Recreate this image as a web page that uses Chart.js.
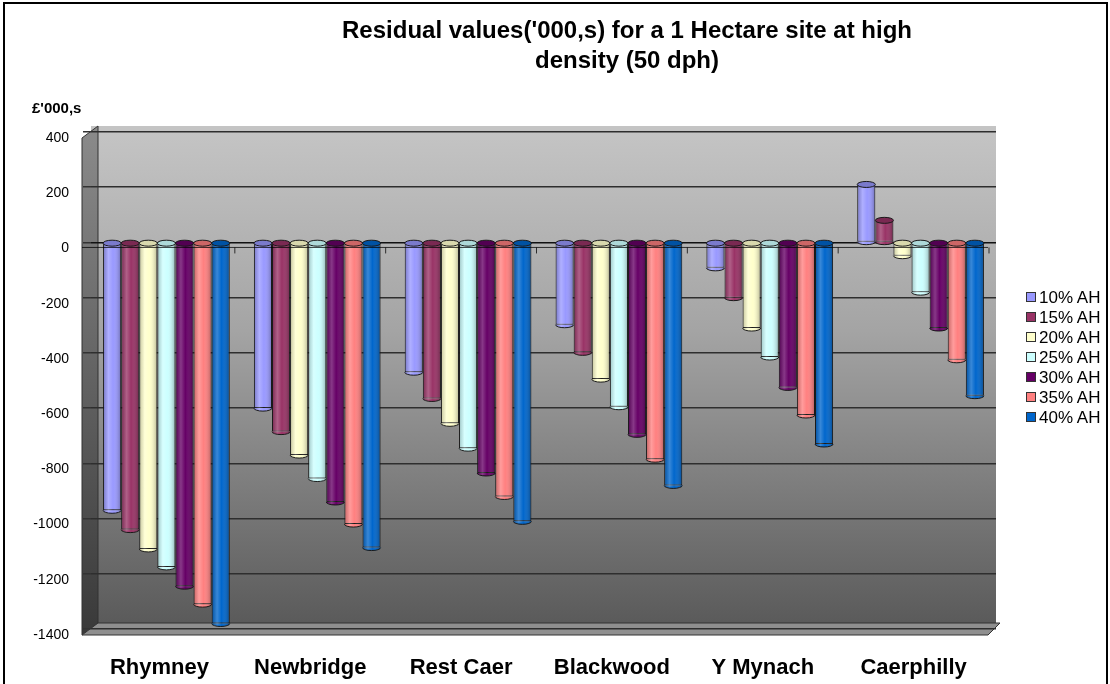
<!DOCTYPE html>
<html>
<head>
<meta charset="utf-8">
<script src="https://cdn.jsdelivr.net/npm/chart.js@4.4.1/dist/chart.umd.min.js"></script>
<style>
  html, body { margin: 0; padding: 0; background: #fff; }
  #wrap { position: relative; width: 1110px; height: 684px; overflow: hidden; font-family: "Liberation Sans", Arial, sans-serif; color: #000; }
  #frame { position: absolute; left: 3px; top: 2px; right: 2px; bottom: -6px; border: 2px solid #000; }
  #title { position: absolute; left: 277px; width: 700px; top: 15px; text-align: center; font-weight: bold; font-size: 24px; line-height: 30px; }
  #unit { position: absolute; left: 32px; top: 99px; font-weight: bold; font-size: 15px; }
  #legend { position: absolute; left: 1026px; top: 288px; font-size: 17px; }
  .item { height: 20px; line-height: 20px; white-space: nowrap; }
  .sw { display: inline-block; width: 8px; height: 8px; border: 1px solid #333; margin-right: 3px; vertical-align: 1px; }
  canvas { position: absolute; left: 0; top: 0; }
</style>
</head>
<body>
<div id="wrap">
  <div id="frame"></div>
  <canvas id="chart" width="1110" height="684"></canvas>
  <div id="title">Residual values('000,s) for a 1 Hectare site at high<br>density (50 dph)</div>
  <div id="unit">£'000,s</div>
  <div id="legend"></div>
</div>
<script>
const sites = ['Rhymney', 'Newbridge', 'Rest Caer', 'Blackwood', 'Y Mynach', 'Caerphilly'];
const seriesNames = ['10% AH', '15% AH', '20% AH', '25% AH', '30% AH', '35% AH', '40% AH'];
const seriesColors = ['#9999FF', '#993366', '#FFFFCC', '#CCFFFF', '#660066', '#FF8080', '#0066CC'];

// residual value per site, one array per affordable-housing share (£'000)
const ah10 = [-970, -600, -470, -298, -92, 210];
const ah15 = [-1040, -685, -565, -398, -200, 80];
const ah20 = [-1110, -770, -655, -495, -310, -48];
const ah25 = [-1175, -855, -745, -595, -415, -180];
const ah30 = [-1245, -940, -835, -695, -525, -310];
const ah35 = [-1310, -1020, -920, -785, -625, -425];
const ah40 = [-1380, -1105, -1010, -880, -730, -555];
const seriesValues = [ah10, ah15, ah20, ah25, ah30, ah35, ah40];

const yTicks = [400, 200, 0, -200, -400, -600, -800, -1000, -1200, -1400];

// legend
const legendEl = document.getElementById('legend');
seriesNames.forEach((name, i) => {
  const row = document.createElement('div');
  row.className = 'item';
  row.innerHTML = `<span class="sw" style="background:${seriesColors[i]}"></span>${name}`;
  legendEl.appendChild(row);
});

function shade(hex, amt) {
  const n = parseInt(hex.slice(1), 16);
  let r = (n >> 16) & 255, g = (n >> 8) & 255, b = n & 255;
  const t = amt > 0 ? 255 : 0, a = Math.abs(amt);
  r = Math.round(r + (t - r) * a); g = Math.round(g + (t - g) * a); b = Math.round(b + (t - b) * a);
  return `rgb(${r},${g},${b})`;
}

// grey walls and floor behind the bars
const wallsPlugin = {
  id: 'walls',
  beforeDraw(chart) {
    const { ctx, chartArea: a } = chart;
    ctx.save();
    const g = ctx.createLinearGradient(0, a.top, 0, a.bottom);
    g.addColorStop(0, '#c4c4c4');
    g.addColorStop(0.4, '#a4a4a4');
    g.addColorStop(1, '#595959');
    ctx.fillStyle = g;
    ctx.fillRect(a.left, a.top - 6, a.right - a.left, a.bottom - a.top + 6);

    // side wall
    const sg = ctx.createLinearGradient(0, a.top, 0, a.bottom);
    sg.addColorStop(0, '#8a8a8a');
    sg.addColorStop(1, '#3a3a3a');
    ctx.fillStyle = sg;
    ctx.beginPath();
    ctx.moveTo(a.left - 9, a.top + 6);
    ctx.lineTo(a.left + 7, a.top - 6);
    ctx.lineTo(a.left + 7, a.bottom - 6);
    ctx.lineTo(a.left - 9, a.bottom + 6);
    ctx.closePath();
    ctx.fill();
    ctx.strokeStyle = '#333';
    ctx.lineWidth = 1;
    ctx.stroke();

    // floor
    ctx.fillStyle = '#8f8f8f';
    ctx.beginPath();
    ctx.moveTo(a.left + 7, a.bottom - 6);
    ctx.lineTo(a.right + 4, a.bottom - 6);
    ctx.lineTo(a.right - 8, a.bottom + 6);
    ctx.lineTo(a.left - 9, a.bottom + 6);
    ctx.closePath();
    ctx.fill();
    ctx.stroke();
    ctx.restore();
  }
};

// cylinder shading, end caps and the front zero line
const cylinderPlugin = {
  id: 'cylinders',
  afterDatasetsDraw(chart) {
    const { ctx, chartArea: a } = chart;
    const y0 = chart.scales.y.getPixelForValue(0);
    ctx.save();
    chart.data.datasets.forEach((ds, di) => {
      const meta = chart.getDatasetMeta(di);
      meta.data.forEach(bar => {
        const w = bar.width, l = bar.x - w / 2;
        const top = Math.min(bar.y, bar.base), bot = Math.max(bar.y, bar.base);
        const col = seriesColors[di];
        const ry = 3;
        // rounded lower end
        ctx.beginPath();
        ctx.ellipse(bar.x, bot, w / 2, ry, 0, 0, Math.PI);
        ctx.fillStyle = col;
        ctx.fill();
        ctx.strokeStyle = '#1a1a1a';
        ctx.lineWidth = 1;
        ctx.stroke();
        // body shading
        const g = ctx.createLinearGradient(l, 0, l + w, 0);
        g.addColorStop(0, 'rgba(0,0,0,0.22)');
        g.addColorStop(0.3, 'rgba(255,255,255,0.22)');
        g.addColorStop(0.55, 'rgba(255,255,255,0)');
        g.addColorStop(1, 'rgba(0,0,0,0.3)');
        ctx.fillStyle = g;
        ctx.fillRect(l + 0.5, top, w - 1, bot - top + ry - 1);
        // upper cap
        ctx.beginPath();
        ctx.ellipse(bar.x, top, w / 2, ry, 0, 0, Math.PI * 2);
        ctx.fillStyle = shade(col, col === '#FFFFCC' || col === '#CCFFFF' ? -0.15 : -0.2);
        ctx.fill();
        ctx.stroke();
      });
    });
    // front zero line with category separators
    const fy = y0 + 5;
    ctx.strokeStyle = 'rgba(0,0,0,0.75)';
    ctx.lineWidth = 1;
    ctx.beginPath();
    ctx.moveTo(a.left - 9, fy);
    ctx.lineTo(a.right - 8, fy);
    const xs = chart.scales.x;
    for (let i = 1; i <= sites.length; i++) {
      const bx = xs.getPixelForValue(i - 0.5) - 7;
      ctx.moveTo(bx, fy);
      ctx.lineTo(bx, fy + 6);
    }
    ctx.stroke();
    ctx.restore();
  }
};

new Chart(document.getElementById('chart'), {
  type: 'bar',
  data: {
    labels: sites,
    datasets: seriesNames.map((name, i) => ({
      label: name,
      data: seriesValues[i],
      backgroundColor: seriesColors[i],
      borderColor: '#1a1a1a',
      borderWidth: 1,
      borderSkipped: false,
      barPercentage: 1,
      categoryPercentage: 0.84
    }))
  },
  options: {
    responsive: false,
    animation: false,
    layout: { padding: { top: 132, right: 114, left: 0, bottom: 0 } },
    plugins: {
      legend: { display: false },
      title: { display: false },
      tooltip: { enabled: false }
    },
    scales: {
      x: {
        grid: { display: false, drawTicks: false },
        border: { display: false },
        ticks: {
          color: '#000',
          padding: 26,
          labelOffset: -7,
          font: { family: '"Liberation Sans", Arial, sans-serif', size: 22, weight: 'bold' }
        },
        afterFit(s) { s.height = 55; }
      },
      y: {
        min: -1400,
        max: 400,
        afterBuildTicks(s) { s.ticks = yTicks.map(v => ({ value: v })); },
        grid: {
          color: ctx => ctx.tick && ctx.tick.value === 0 ? '#111' : '#2e2e2e',
          lineWidth: 1.5,
          tickLength: 8,
          tickColor: '#333'
        },
        border: { display: false },
        ticks: {
          color: '#000',
          padding: 14,
          labelOffset: 6,
          callback: v => String(v),
          font: { family: '"Liberation Sans", Arial, sans-serif', size: 14 }
        },
        afterFit(s) { s.width = 91; }
      }
    }
  },
  plugins: [wallsPlugin, cylinderPlugin]
});
</script>
</body>
</html>
